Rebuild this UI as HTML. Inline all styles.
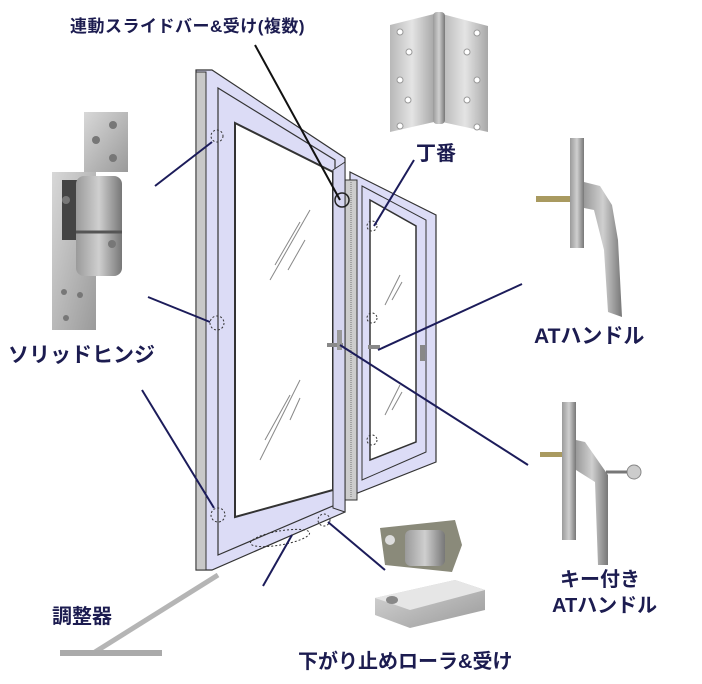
<!DOCTYPE html>
<html><head><meta charset="utf-8">
<style>
html,body{margin:0;padding:0;background:#fff;}
body{width:702px;height:684px;overflow:hidden;position:relative;}
svg{position:absolute;left:0;top:0;}
.t{font-family:"Liberation Sans","Noto Sans CJK JP",sans-serif;font-weight:bold;fill:#1c1c50;}
</style></head><body>
<svg width="702" height="684" viewBox="0 0 702 684" xmlns="http://www.w3.org/2000/svg">
<defs>
<linearGradient id="m" x1="0" y1="0" x2="1" y2="0"><stop offset="0" stop-color="#b8b8b8"/><stop offset=".5" stop-color="#e4e4e4"/><stop offset="1" stop-color="#a8a8a8"/></linearGradient>
<linearGradient id="m2" x1="0" y1="0" x2="1" y2="1"><stop offset="0" stop-color="#d8d8d8"/><stop offset="1" stop-color="#9a9a9a"/></linearGradient>
<linearGradient id="h" x1="0" y1="0" x2="1" y2="0"><stop offset="0" stop-color="#9a9a9a"/><stop offset=".5" stop-color="#cfcfcf"/><stop offset="1" stop-color="#777"/></linearGradient>
</defs>

<!-- right small window -->
<polygon points="350,172 436,215 436,462 350,496" fill="#dcdcf6" stroke="#333" stroke-width="1.2"/>
<polygon points="362,186 426,220 426,452 362,480" fill="none" stroke="#333" stroke-width="1"/>
<polygon points="370,200 416,226 416,442 370,460" fill="#fff" stroke="#333" stroke-width="1.5"/>
<rect x="345" y="180" width="12" height="320" fill="#ccc" stroke="#333"/>
<line x1="351" y1="182" x2="351" y2="498" stroke="#777" stroke-dasharray="1,1"/>

<!-- main sash -->
<polygon points="196,70 212,70 345,158 345,512 212,570 196,570" fill="#dcdcf6" stroke="#333" stroke-width="1.2"/>
<polygon points="196,72 206,72 206,570 196,570" fill="#c8c8c8" stroke="#333"/>
<polygon points="218,88 335,160 335,505 218,555" fill="none" stroke="#333" stroke-width="1.2"/>
<polygon points="235,123 333,172 333,490 235,517" fill="#fff" stroke="#333" stroke-width="2"/>
<polygon points="333,170 345,162 345,512 333,508" fill="#d6d6f0" stroke="#333"/>
<g stroke="#888" stroke-width="1">
<line x1="270" y1="280" x2="310" y2="210"/><line x1="288" y1="270" x2="305" y2="240"/><line x1="275" y1="265" x2="300" y2="222"/>
<line x1="260" y1="460" x2="300" y2="380"/><line x1="290" y1="420" x2="300" y2="398"/><line x1="265" y1="440" x2="290" y2="395"/>
<line x1="385" y1="305" x2="400" y2="275"/><line x1="392" y1="300" x2="402" y2="282"/>
<line x1="385" y1="415" x2="400" y2="385"/><line x1="392" y1="410" x2="402" y2="392"/>
</g>
<g fill="none" stroke="#333" stroke-dasharray="2,2">
<circle cx="217" cy="136" r="6"/><circle cx="217" cy="323" r="7"/><circle cx="218" cy="515" r="7"/>
<circle cx="372" cy="226" r="5"/><circle cx="372" cy="318" r="5"/><circle cx="372" cy="440" r="5"/>
<circle cx="324" cy="520" r="6"/>
<ellipse cx="280" cy="538" rx="30" ry="7" transform="rotate(-10 280 538)"/>
</g>
<circle cx="342" cy="200" r="7" fill="none" stroke="#222" stroke-width="1.5"/>
<rect x="327" y="343" width="16" height="4" fill="#888"/><rect x="337" y="330" width="5" height="20" fill="#999"/>
<rect x="368" y="345" width="12" height="4" fill="#888"/>
<rect x="420" y="345" width="5" height="16" fill="#888"/>

<!-- leader lines -->
<g stroke="#1c1c5a" stroke-width="2" fill="none">
<line x1="155" y1="186" x2="212" y2="142"/>
<line x1="148" y1="297" x2="210" y2="322"/>
<line x1="142" y1="390" x2="214" y2="508"/>
<line x1="414" y1="160" x2="374" y2="226"/>
<line x1="522" y1="284" x2="378" y2="350"/>
<line x1="528" y1="465" x2="340" y2="345"/>
<line x1="328" y1="522" x2="385" y2="570"/>
<line x1="292" y1="535" x2="263" y2="586"/>
</g>
<line x1="255" y1="45" x2="340" y2="200" stroke="#111" stroke-width="2"/>

<!-- solid hinge photo -->
<rect x="84" y="112" width="44" height="60" fill="url(#m2)"/>
<rect x="52" y="172" width="44" height="158" fill="url(#m2)"/>
<rect x="62" y="180" width="20" height="60" fill="#444"/>
<rect x="76" y="176" width="46" height="100" rx="8" fill="url(#h)"/>
<line x1="76" y1="232" x2="122" y2="232" stroke="#555" stroke-width="3"/>
<g fill="#777"><circle cx="113" cy="125" r="4"/><circle cx="96" cy="140" r="4"/><circle cx="113" cy="158" r="4"/><circle cx="66" cy="200" r="4"/><circle cx="112" cy="244" r="4"/><circle cx="64" cy="292" r="3"/><circle cx="80" cy="295" r="3"/><circle cx="66" cy="318" r="3"/></g>

<!-- butt hinge -->
<polygon points="390,25 434,14 434,122 390,132" fill="url(#m)"/>
<polygon points="442,14 488,26 488,132 442,122" fill="url(#m)"/>
<rect x="433" y="12" width="12" height="112" rx="4" fill="url(#h)"/>
<g fill="#fff" stroke="#999"><circle cx="400" cy="32" r="3"/><circle cx="409" cy="52" r="3"/><circle cx="400" cy="80" r="3"/><circle cx="408" cy="100" r="3"/><circle cx="400" cy="126" r="3"/><circle cx="477" cy="33" r="3"/><circle cx="467" cy="52" r="3"/><circle cx="477" cy="80" r="3"/><circle cx="467" cy="100" r="3"/><circle cx="477" cy="127" r="3"/></g>

<!-- AT handle -->
<rect x="536" y="196" width="36" height="6" fill="#a99a60"/>
<rect x="570" y="138" width="14" height="110" fill="url(#h)"/>
<path d="M584,182 L600,186 L612,205 L618,240 L622,317 L608,312 L604,250 L594,210 L584,208 Z" fill="url(#h)"/>
<!-- key handle -->
<rect x="540" y="452" width="34" height="5" fill="#a99a60"/>
<rect x="562" y="402" width="14" height="138" fill="url(#h)"/>
<path d="M576,440 L585,442 L608,475 L608,565 L598,565 L595,482 L576,470 Z" fill="url(#h)"/>
<circle cx="634" cy="472" r="7" fill="#ccc" stroke="#888"/>
<line x1="606" y1="472" x2="627" y2="472" stroke="#777" stroke-width="3"/>

<!-- roller -->
<polygon points="380,528 455,520 462,545 452,572 385,565" fill="#8a8a7a"/>
<rect x="405" y="530" width="40" height="36" rx="6" fill="url(#h)"/>
<circle cx="390" cy="540" r="5" fill="#ddd"/>
<polygon points="375,598 455,580 485,590 485,610 410,628 375,615" fill="url(#m2)"/>
<polygon points="375,598 455,580 485,590 410,610" fill="#e6e6e6"/>
<ellipse cx="392" cy="600" rx="6" ry="4" fill="#888"/>

<!-- adjuster -->
<line x1="95" y1="652" x2="218" y2="575" stroke="#b5b5b5" stroke-width="5"/>
<rect x="60" y="650" width="102" height="6" fill="#aaa"/>

<!-- labels -->
<text class="t" x="70" y="32" font-size="17" letter-spacing="0.5">連動スライドバー&amp;受け(複数)</text>
<text class="t" x="416" y="160" font-size="20">丁番</text>
<text class="t" x="8" y="362" font-size="21">ソリッドヒンジ</text>
<text class="t" x="534" y="343" font-size="21">ATハンドル</text>
<text class="t" x="560" y="586" font-size="20">キー付き</text>
<text class="t" x="552" y="612" font-size="20">ATハンドル</text>
<text class="t" x="52" y="623" font-size="20">調整器</text>
<text class="t" x="298" y="668" font-size="20">下がり止めローラ&amp;受け</text>
</svg>
</body></html>
